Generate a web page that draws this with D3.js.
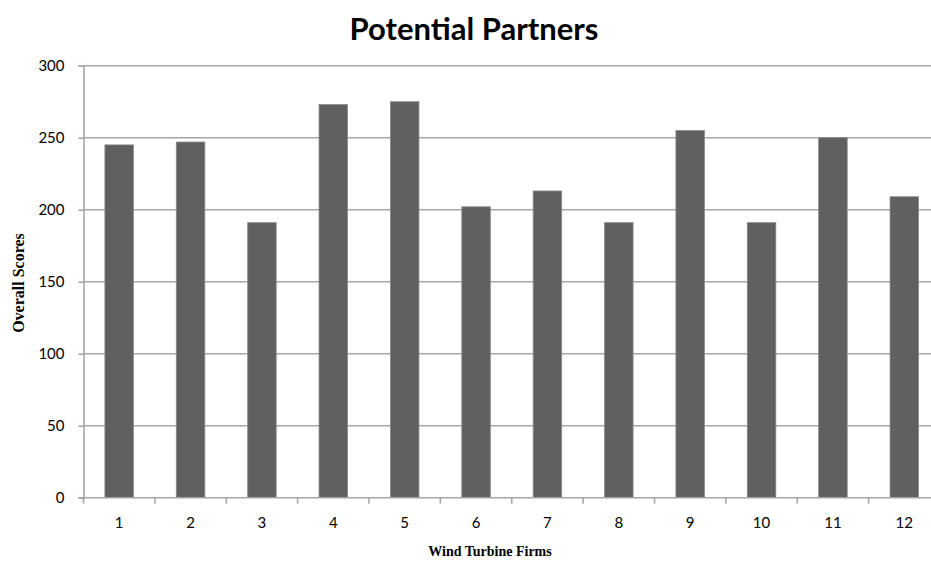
<!DOCTYPE html>
<html>
<head>
<meta charset="utf-8">
<script src="https://cdn.jsdelivr.net/npm/d3@7"></script>
<style>
  html, body { margin: 0; padding: 0; background: #fff; }
  svg { display: block; }
</style>
</head>
<body>
<svg id="chart" width="931" height="562"></svg>
<script>
// Overall scores for each wind turbine firm
const firms = ["1", "2", "3", "4", "5", "6", "7", "8", "9", "10", "11", "12"];
const scores = [245, 247, 191, 273, 275, 202, 213, 191, 255, 191, 250, 209];
const yTicks = [0, 50, 100, 150, 200, 250, 300];

const svg = d3.select("#chart");
const plot = { left: 83.5, right: 940, top: 65.7, bottom: 497.7 };

const x = d3.scaleBand()
  .domain(firms)
  .range([plot.left, plot.right])
  .paddingInner(0.6)
  .paddingOuter(0.3);

const xOuter = d3.scaleBand().domain(firms).range([plot.left, plot.right]);

const y = d3.scaleLinear().domain([0, 300]).range([plot.bottom, plot.top]);

const gridColor = "#a6a6a6";
const labelFont = "Lato, 'Open Sans', sans-serif";

// Horizontal gridlines
svg.append("g")
  .selectAll("line")
  .data(yTicks.filter(d => d > 0))
  .join("line")
  .attr("x1", plot.left)
  .attr("x2", plot.right)
  .attr("y1", d => y(d))
  .attr("y2", d => y(d))
  .attr("stroke", gridColor)
  .attr("stroke-width", 1.6);

// Bars
svg.append("g")
  .selectAll("rect")
  .data(firms.map((f, i) => ({ f, v: scores[i] })))
  .join("rect")
  .attr("x", d => x(d.f))
  .attr("width", x.bandwidth())
  .attr("y", d => y(d.v))
  .attr("height", d => y(0) - y(d.v))
  .attr("fill", "#606060")
  .attr("stroke", "#8a8a8a")
  .attr("stroke-width", 0.8);

// Y axis
const yAxis = svg.append("g")
  .attr("transform", `translate(${plot.left},0)`)
  .call(d3.axisLeft(y).tickValues(yTicks).tickSize(5).tickPadding(14));
yAxis.select(".domain").attr("stroke", gridColor).attr("stroke-width", 1.6);
yAxis.selectAll(".tick line").attr("stroke", gridColor).attr("stroke-width", 1.6);
yAxis.selectAll(".tick text")
  .attr("font-family", labelFont)
  .attr("font-size", 15)
  .attr("fill", "#000");

// X axis with ticks on category boundaries
const xAxis = svg.append("g")
  .attr("transform", `translate(0,${plot.bottom})`)
  .call(d3.axisBottom(x).tickSize(0).tickPadding(20));
xAxis.select(".domain").remove();
xAxis.selectAll(".tick text")
  .attr("font-family", labelFont)
  .attr("font-size", 15)
  .attr("fill", "#000");

svg.append("line")
  .attr("x1", plot.left - 5).attr("x2", plot.right)
  .attr("y1", plot.bottom).attr("y2", plot.bottom)
  .attr("stroke", gridColor).attr("stroke-width", 1.6);

svg.append("g")
  .selectAll("line")
  .data(firms)
  .join("line")
  .attr("x1", d => xOuter(d))
  .attr("x2", d => xOuter(d))
  .attr("y1", plot.bottom)
  .attr("y2", plot.bottom + 6)
  .attr("stroke", gridColor)
  .attr("stroke-width", 1.6);

// Title
svg.append("text")
  .attr("x", 474)
  .attr("y", 40)
  .attr("text-anchor", "middle")
  .attr("font-family", labelFont)
  .attr("font-weight", "bold")
  .attr("font-size", 31)
  .attr("fill", "#000")
  .text("Potential Partners");

// Axis titles
svg.append("text")
  .attr("x", 490)
  .attr("y", 556)
  .attr("text-anchor", "middle")
  .attr("font-family", "'Liberation Serif', 'DejaVu Serif', serif")
  .attr("font-weight", "bold")
  .attr("font-size", 14)
  .attr("fill", "#000")
  .text("Wind Turbine Firms");

svg.append("text")
  .attr("transform", "translate(24,283) rotate(-90)")
  .attr("text-anchor", "middle")
  .attr("font-family", "'Liberation Serif', 'DejaVu Serif', serif")
  .attr("font-weight", "bold")
  .attr("font-size", 16)
  .attr("fill", "#000")
  .text("Overall Scores");
</script>
</body>
</html>
